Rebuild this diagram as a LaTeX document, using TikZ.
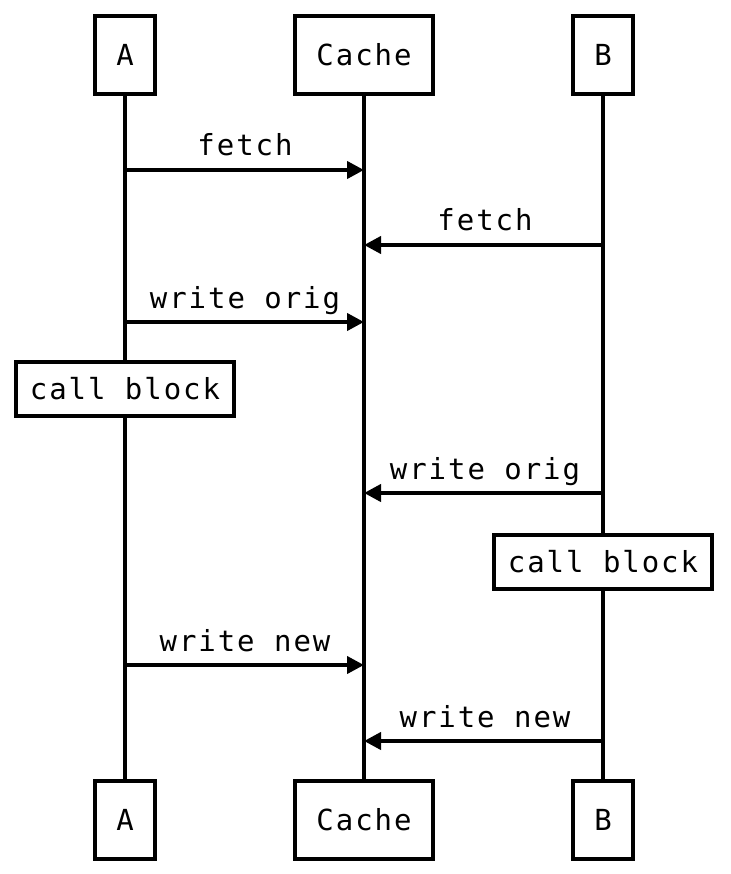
\documentclass[tikz,border=0pt]{standalone}
\usepackage{fontspec}
\setmonofont[LetterSpace=6.7]{DejaVu Sans Mono}
\usetikzlibrary{arrows.meta}
\tikzset{
	actor/.style={draw,line width=4pt,fill=white,minimum height=78pt,minimum width=58pt,inner xsep=21pt,font=\ttfamily\fontsize{29}{34}\selectfont},
	callbox/.style={draw,line width=4pt,fill=white,minimum height=54pt,inner xsep=13.5pt,font=\ttfamily\fontsize{29}{34}\selectfont},
	msg/.style={line width=4pt,-{Triangle[length=17pt,width=17pt]}},
	lbl/.style={font=\ttfamily\fontsize{29}{34}\selectfont,inner sep=0pt,anchor=base}
}
\begin{document}
\begin{tikzpicture}[x=1pt,y=-1pt]
	\useasboundingbox (0,0) rectangle (730,874);
	% lifelines
	\draw[line width=4pt] (125,55) coordinate (atop) -- (125,820) coordinate (abot);
	\draw[line width=4pt] (364,55) coordinate (ctop) -- (364,820) coordinate (cbot);
	\draw[line width=4pt] (603,55) coordinate (btop) -- (603,820) coordinate (bbot);
	% participants
	\node[actor] (a1) at (atop) {A};
	\node[actor] (c1) at (ctop) {Cache};
	\node[actor] (b1) at (btop) {B};
	\node[actor] (a2) at (abot) {A};
	\node[actor] (c2) at (cbot) {Cache};
	\node[actor] (b2) at (bbot) {B};
	% messages
	\coordinate (m1a) at (125,170); \coordinate (m1c) at (364,170);
	\coordinate (m2b) at (603,245); \coordinate (m2c) at (364,245);
	\coordinate (m3a) at (125,322); \coordinate (m3c) at (364,322);
	\coordinate (m4b) at (603,493); \coordinate (m4c) at (364,493);
	\coordinate (m5a) at (125,665); \coordinate (m5c) at (364,665);
	\coordinate (m6b) at (603,741); \coordinate (m6c) at (364,741);
	\draw[msg] (m1a) -- (m1c);
	\node[lbl] (l1) at (245,156) {fetch};
	\draw[msg] (m2b) -- (m2c);
	\node[lbl] (l2) at (485,231) {fetch};
	\draw[msg] (m3a) -- (m3c);
	\node[lbl] (l3) at (245,308) {write orig};
	\node[callbox] (ca) at (125,389) {call block};
	\draw[msg] (m4b) -- (m4c);
	\node[lbl] (l4) at (485,479) {write orig};
	\node[callbox] (cb) at (603,562) {call block};
	\draw[msg] (m5a) -- (m5c);
	\node[lbl] (l5) at (245,651) {write new};
	\draw[msg] (m6b) -- (m6c);
	\node[lbl] (l6) at (485,727) {write new};
\end{tikzpicture}
\end{document}
